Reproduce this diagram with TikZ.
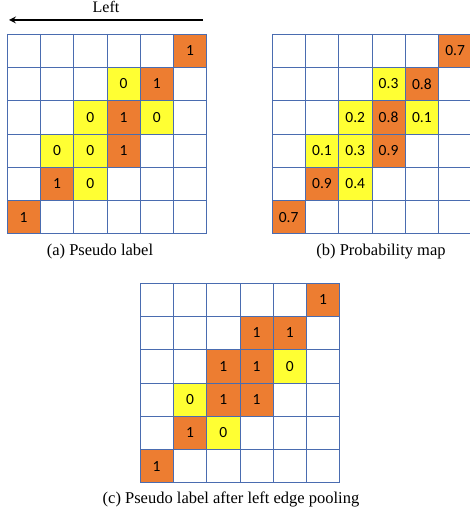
\documentclass[tikz,border=0pt]{standalone}
\usepackage{fontspec}
\setmainfont{Liberation Serif}
\newfontfamily\cellfont{Carlito}
\usetikzlibrary{positioning}
\usetikzlibrary{arrows}
\definecolor{cellorange}{RGB}{237,125,49}
\definecolor{cellyellow}{RGB}{255,255,51}
\definecolor{gridblue}{RGB}{74,108,176}
\tikzset{
    % Arrow tip for the pooling direction
    >=stealth,
%
    % Cells of the edge and of the pixels next to it
    edge cell/.style={fill=cellorange},
    near cell/.style={fill=cellyellow},
%
    % Numbers written in the cells
    cell text/.style={font=\cellfont\fontsize{15.5}{17}\selectfont, inner sep=0},
%
    % Thin blue lines of the 6x6 maps
    grid line/.style={draw=gridblue, line width=0.8pt},
%
    % Captions under the maps
    caption/.style={font=\fontsize{16.5}{19}\selectfont, inner sep=0}}

% Fills the listed cells (column/row/value) of a map
\newcommand{\fillcells}[2]{%
    \foreach \c/\r/\v in {#2} {
        \path[#1] (\c,\r) rectangle +(1,1);
        \node[cell text] at (\c+.5,\r+.5) {\v};
    }}

% Draws the 6x6 lines of a map
\newcommand{\maplines}{%
    \foreach \i in {0,...,6} {
        \draw[grid line] (\i,0) -- (\i,6);
        \draw[grid line] (0,\i) -- (6,\i);
    }}

\begin{document}
\begin{tikzpicture}[x=1pt, y=-1pt]
\useasboundingbox (0,0) rectangle (469,516);

% Direction of the pooling
\coordinate (arrow start) at (203,20);
\coordinate (arrow end) at (9,20);
\draw[->, line width=2pt] (arrow start) -- (arrow end);
\node[caption, font=\fontsize{16}{18}\selectfont] (left label) at (106,7) {Left};

% (a) The pseudo label
\begin{scope}[shift={(7,34)}, x=33.3pt, y=-33.3pt]
    \fillcells{edge cell}{5/0/1, 4/1/1, 3/2/1, 3/3/1, 1/4/1, 0/5/1}
    \fillcells{near cell}{3/1/0, 2/2/0, 4/2/0, 1/3/0, 2/3/0, 2/4/0}
    \maplines
\end{scope}
\node[caption] (caption a) at (100,252) {(a) Pseudo label};

% (b) The probability map
\begin{scope}[shift={(272,34)}, x=33.3pt, y=-33.3pt]
    \fillcells{edge cell}{5/0/0.7, 4/1/0.8, 3/2/0.8, 3/3/0.9, 1/4/0.9, 0/5/0.7}
    \fillcells{near cell}{3/1/0.3, 2/2/0.2, 4/2/0.1, 1/3/0.1, 2/3/0.3, 2/4/0.4}
    \maplines
\end{scope}
\node[caption] (caption b) at (381,252) {(b) Probability map};

% (c) The pseudo label after the pooling
\begin{scope}[shift={(140,283)}, x=33.3pt, y=-33.3pt]
    \fillcells{edge cell}{5/0/1, 3/1/1, 4/1/1, 2/2/1, 3/2/1, 2/3/1, 3/3/1, 1/4/1, 0/5/1}
    \fillcells{near cell}{4/2/0, 1/3/0, 2/4/0}
    \maplines
\end{scope}
\node[caption] (caption c) at (231,499) {(c) Pseudo label after left edge pooling};

\end{tikzpicture}
\end{document}
